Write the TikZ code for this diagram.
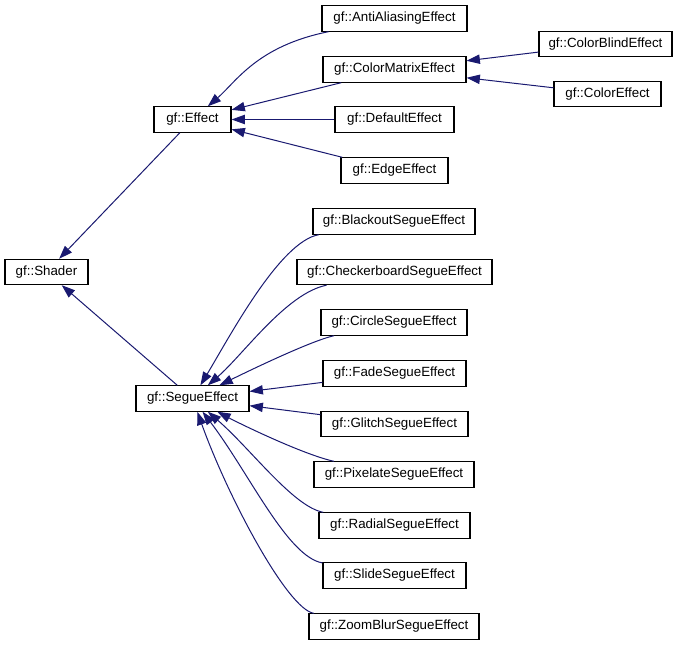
\documentclass[tikz,border=0pt]{standalone}
\usepackage{fontspec}
\setmainfont{Liberation Sans}
\usetikzlibrary{arrows.meta}
\definecolor{edgeblue}{HTML}{191970}
\begin{document}
\begin{tikzpicture}[x=0.75pt,y=-0.75pt,
  cls/.style={draw=black, line width=0.8pt, fill=white, inner sep=0pt,
    minimum height=19pt, font=\fontsize{10}{12}\selectfont},
  edge/.style={draw=edgeblue, line width=0.75pt,
    {Triangle[length=10pt,width=7pt,fill=edgeblue]}-}]
\useasboundingbox (0,0) rectangle (681,645);
% nodes
\node[cls, minimum width=62.25pt] (shader) at (46.5,272) {gf::Shader};
\node[cls, minimum width=57.75pt] (effect) at (192.5,119.5) {gf::Effect};
\node[cls, minimum width=84.75pt] (segue) at (192.5,398.5) {gf::SegueEffect};
\node[cls, minimum width=108.75pt] (anti) at (394.5,18.5) {gf::AntiAliasingEffect};
\node[cls, minimum width=107.25pt] (cmatrix) at (394.5,69.5) {gf::ColorMatrixEffect};
\node[cls, minimum width=89.25pt] (default) at (394.5,119.5) {gf::DefaultEffect};
\node[cls, minimum width=80.25pt] (edgeeff) at (394.5,170.5) {gf::EdgeEffect};
\node[cls, minimum width=99.75pt] (cblind) at (605.5,44) {gf::ColorBlindEffect};
\node[cls, minimum width=80.25pt] (ceffect) at (607.5,94) {gf::ColorEffect};
\node[cls, minimum width=121.5pt] (blackout) at (394,221.5) {gf::BlackoutSegueEffect};
\node[cls, minimum width=146.25pt] (checker) at (394.5,272) {gf::CheckerboardSegueEffect};
\node[cls, minimum width=109.5pt] (circle) at (394,322.5) {gf::CircleSegueEffect};
\node[cls, minimum width=107.25pt] (fade) at (394.5,373.5) {gf::FadeSegueEffect};
\node[cls, minimum width=110.25pt] (glitch) at (394.5,424) {gf::GlitchSegueEffect};
\node[cls, minimum width=120pt] (pixel) at (394,474.5) {gf::PixelateSegueEffect};
\node[cls, minimum width=113.25pt] (radial) at (394.5,525.5) {gf::RadialSegueEffect};
\node[cls, minimum width=107.25pt] (slide) at (394.5,575.5) {gf::SlideSegueEffect};
\node[cls, minimum width=127.5pt] (zoom) at (394,626.5) {gf::ZoomBlurSegueEffect};
% edges (arrow at the base class)
\draw[edge] (shader) -- (effect);
\draw[edge] (shader) -- (segue);
\draw[edge] (effect) .. controls (236,82) and (257,46) .. (anti);
\draw[edge] (effect) -- (cmatrix);
\draw[edge] (effect) -- (default);
\draw[edge] (effect) -- (edgeeff);
\draw[edge] (cmatrix) -- (cblind);
\draw[edge] (cmatrix) -- (ceffect);
\draw[edge] (segue) .. controls (230,336) and (280,241.5) .. (blackout);
\draw[edge] (segue) .. controls (243,355) and (286.5,293) .. (checker);
\draw[edge] (segue) .. controls (243.5,373.5) and (310,341) .. (circle);
\draw[edge] (segue) -- (fade);
\draw[edge] (segue) -- (glitch);
\draw[edge] (segue) .. controls (239.5,423.5) and (303,454.5) .. (pixel);
\draw[edge] (segue) .. controls (250.5,448.5) and (293.25,506.75) .. (radial);
\draw[edge] (segue) .. controls (249.5,473.5) and (287.25,556.75) .. (slide);
\draw[edge] (segue) .. controls (228.5,498.5) and (287.6,609) .. (zoom);
\end{tikzpicture}
\end{document}
